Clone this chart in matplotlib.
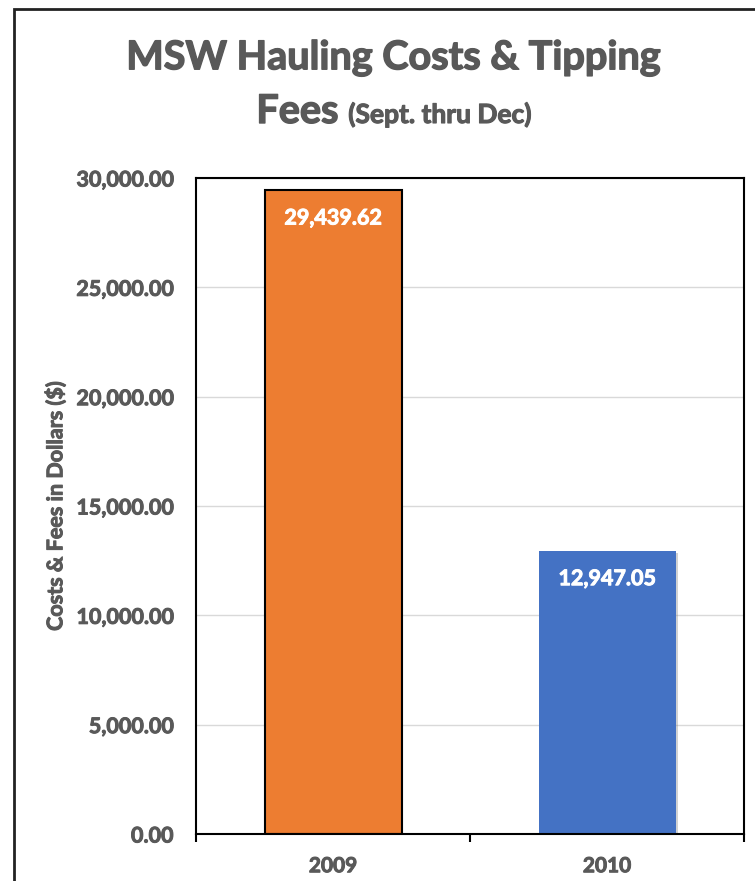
import matplotlib
matplotlib.use("Agg")
import matplotlib.pyplot as plt
from matplotlib.patches import Rectangle
from matplotlib.ticker import FuncFormatter
import matplotlib.patheffects as pe

categories = ["2009", "2010"]
values = [29439.62, 12947.05]
colors = ["#ED7D31", "#4472C4"]
edges = ["black", "none"]
yticks = [0, 5000, 10000, 15000, 20000, 25000, 30000]

plt.rcParams['font.family'] = ['Lato', 'DejaVu Sans']
gray = "#595959"


def thick(color, w=0.7):
    return [pe.withStroke(linewidth=w, foreground=color)]


fig = plt.figure(figsize=(7.55, 8.81), dpi=100)
ax = fig.add_axes([196/755, 1-834/881, (744-196)/755, (834-178)/881])

x = list(range(len(categories)))
for i in x:
    b = ax.bar(i, values[i], width=0.5, color=colors[i], edgecolor=edges[i],
               linewidth=1.5 if edges[i] != "none" else 0, zorder=3)
    if edges[i] == "none":
        b[0].set_path_effects([pe.SimplePatchShadow(offset=(1.5, -1.5), shadow_rgbFace='gray', alpha=0.35), pe.Normal()])
    ax.annotate(f"{values[i]:,.2f}", (i, values[i]), xytext=(0, -20), textcoords="offset points",
                ha="center", va="center", color="white", fontsize=15.5, fontweight="bold", zorder=4,
                path_effects=thick("white"))

ax.set_xlim(-0.5, len(categories) - 0.5)
ax.set_ylim(0, 30000)
ax.set_yticks(yticks)
ax.yaxis.set_major_formatter(FuncFormatter(lambda v, p: f"{v:,.2f}"))
ax.set_xticks(x)
ax.set_xticklabels(categories)
ax.set_xticks([-0.5, 0.5, 1.5], minor=True)
ax.tick_params(axis="x", which="major", length=0, pad=16, labelsize=15, labelcolor=gray)
ax.tick_params(axis="x", which="minor", length=6, width=1.5, direction="out", color="black")
ax.tick_params(axis="y", length=0, pad=16.5, labelsize=15.5, labelcolor=gray)
for lab in ax.get_xticklabels() + ax.get_yticklabels():
    lab.set_fontweight("bold")
    lab.set_path_effects(thick(gray))

ax.grid(axis="y", color="#D9D9D9", linewidth=1, zorder=0)
ax.set_axisbelow(True)
for s in ax.spines.values():
    s.set_color("black")
    s.set_linewidth(1.5)
    s.set_zorder(5)

ax.set_ylabel("Costs & Fees in Dollars ($)", fontsize=15.5, fontweight="bold", color=gray,
              va="center", path_effects=thick(gray))
ax.yaxis.set_label_coords((55 - 196) / (744 - 196), 0.5)

cx = 394 / 755
fig.text(cx, 1 - 58/881, "MSW Hauling Costs & Tipping", ha="center", va="center",
         fontsize=28.5, fontweight="bold", color=gray, path_effects=thick(gray, 1.0))
t1 = fig.text(0, 1 - 123/881, "Fees ", ha="left", va="baseline",
              fontsize=28.5, fontweight="bold", color=gray, path_effects=thick(gray, 1.0))
t2 = fig.text(0, 1 - 123/881, "(Sept. thru Dec)", ha="left", va="baseline",
              fontsize=19, fontweight="bold", color=gray, path_effects=thick(gray, 0.8))
r = fig.canvas.get_renderer()
w1 = t1.get_window_extent(r).width / fig.bbox.width
w2 = t2.get_window_extent(r).width / fig.bbox.width
start = cx - (w1 + w2) / 2
t1.set_x(start)
t2.set_x(start + w1)

fig.patches.append(Rectangle((14/755, -0.05), 1.0, 1 - 9/881 + 0.05, transform=fig.transFigure,
                             fill=False, edgecolor="#222222", linewidth=2))

fig.savefig("out.png", dpi=100)
